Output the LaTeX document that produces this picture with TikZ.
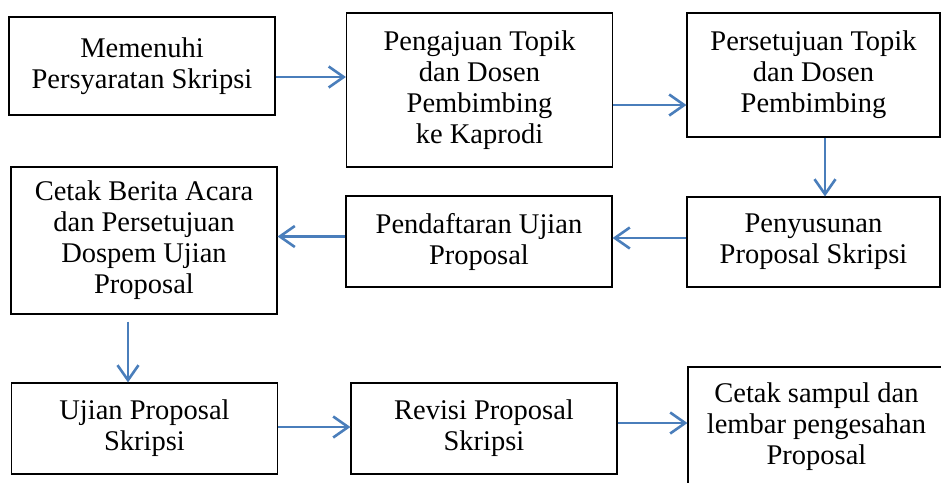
\documentclass[tikz,border=0pt]{standalone}
\usepackage{fontspec}
\setmainfont{Liberation Serif}
\usepackage{xcolor}
\usepackage{tikz}
\usetikzlibrary{arrows.meta,positioning,calc}
\definecolor{alurbiru}{RGB}{74,126,187}

\begin{document}
\begin{tikzpicture}[x=1pt, y=-1pt,
  box/.style={draw, line width=1.1pt, align=center, inner sep=0pt, minimum width=266pt, font=\fontsize{28.5}{31}\selectfont},
  arrow/.style={-{Straight Barb[length=15pt, width=21pt]}, draw=alurbiru, line width=2.6pt}
]
\useasboundingbox (0,0) rectangle (941,482);
\node[box, minimum height=98pt] (syarat) at (142,66) {Memenuhi\\Persyaratan Skripsi};
\node[box, minimum height=154pt] (ajuan) at (479.5,90) {Pengajuan Topik\\dan Dosen\\Pembimbing\\ke Kaprodi};
\node[box, minimum width=253pt, minimum height=124pt] (setuju) at (813.5,75) {Persetujuan Topik\\dan Dosen\\Pembimbing};
\node[box, minimum width=253pt, minimum height=90pt] (susun) at (813.5,242) {Penyusunan\\Proposal Skripsi};
\node[box, minimum height=91pt] (daftar) at (479,241.5) {Pendaftaran Ujian\\Proposal};
\node[box, minimum height=147pt] (cetak) at (144,240.5) {Cetak Berita Acara\\dan Persetujuan\\Dospem Ujian\\Proposal};
\node[box, minimum height=91pt] (ujian) at (144.5,428.5) {Ujian Proposal\\Skripsi};
\node[box, minimum height=91pt] (revisi) at (484,428.5) {Revisi Proposal\\Skripsi};
\node[box, minimum width=257pt, minimum height=120pt] (sampul) at (816.5,427) {Cetak sampul dan\\lembar pengesahan\\Proposal};
\draw[arrow] ([yshift=-11pt]syarat.east) -- ([yshift=-11pt]syarat.east -| ajuan.west);
\draw[arrow] ([yshift=-15pt]ajuan.east) -- ([yshift=-15pt]ajuan.east -| setuju.west);
\draw[arrow] ([xshift=11.5pt]setuju.south) -- ([xshift=11.5pt]setuju.south |- susun.north);
\draw[arrow] ([yshift=4pt]susun.west) -- ([yshift=4pt]susun.west -| daftar.east);
\draw[arrow] ([yshift=5pt]daftar.west) -- ([yshift=5pt]daftar.west -| cetak.east);
\draw[arrow] ([xshift=-16pt,yshift=-7pt]cetak.south) -- ([xshift=-16pt]cetak.south |- ujian.north);
\draw[arrow] ([yshift=1.5pt]ujian.east) -- ([yshift=1.5pt]ujian.east -| revisi.west);
\draw[arrow] ([yshift=5.5pt]revisi.east) -- ([yshift=5.5pt]revisi.east -| sampul.west);
\end{tikzpicture}
\end{document}
